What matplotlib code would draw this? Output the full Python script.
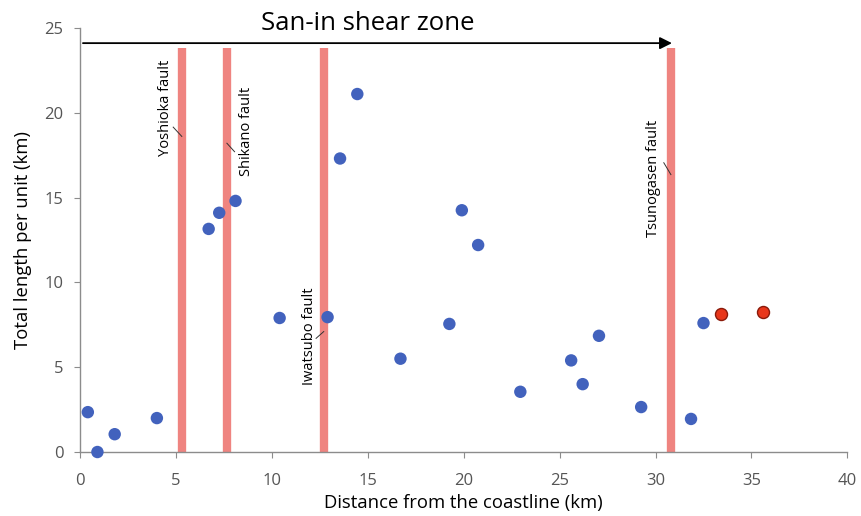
import matplotlib
matplotlib.use("Agg")
import matplotlib.pyplot as plt

plt.rcParams['font.family'] = ['Open Sans', 'DejaVu Sans']

# blue points: distance from coastline (km), total length per unit (km)
dist_blue = [0.4, 0.9, 1.8, 4.0, 6.7, 7.25, 8.1, 10.4, 12.9, 13.55, 14.45, 16.7,
             19.25, 19.9, 20.75, 22.95, 25.6, 26.2, 27.05, 29.25, 31.85, 32.5]
len_blue = [2.35, 0.0, 1.05, 2.0, 13.15, 14.1, 14.8, 7.9, 7.95, 17.3, 21.1, 5.5,
            7.55, 14.25, 12.2, 3.55, 5.4, 4.0, 6.85, 2.65, 1.95, 7.6]
# red points
dist_red = [33.4, 35.6]
len_red = [8.15, 8.25]

# faults
fault_names = ["Yoshioka fault", "Shikano fault", "Iwatsubo fault", "Tsunogasen fault"]
fault_x = [5.3, 7.65, 12.7, 30.8]
label_x = [4.45, 8.65, 11.95, 29.9]
label_y = [20.3, 18.9, 6.85, 16.15]
# leader lines: dx from fault, y at the fault, y at the label end
leader_dx = [-0.45, 0.4, -0.4, -0.37]
leader_y0 = [18.6, 18.2, 7.1, 16.35]
leader_y1 = [19.15, 17.7, 6.7, 17.05]

fig = plt.figure(figsize=(8.62, 5.16), dpi=100)
ax = fig.add_axes([0.093, 0.124, 0.890, 0.822])

for fx in fault_x:
    ax.plot([fx, fx], [0, 23.8], color='#ef8480', lw=6, solid_capstyle='butt', zorder=1)

for name, fx, lx, ly, dx, y0, y1 in zip(fault_names, fault_x, label_x, label_y,
                                        leader_dx, leader_y0, leader_y1):
    ax.text(lx, ly, name, rotation=90, ha='center', va='center', fontsize=10.5, color='black')
    ax.plot([fx, fx + dx], [y0, y1], color='#333333', lw=0.7, zorder=3)

ax.scatter(dist_blue, len_blue, s=80, color='#4262bd', edgecolors='none', zorder=4, clip_on=False)
ax.scatter(dist_red, len_red, s=75, color='#e8361a', edgecolors='#8a1a0a', linewidths=1.0, zorder=4)

ax.annotate('', xy=(31.0, 24.1), xytext=(0, 24.1),
            arrowprops=dict(arrowstyle='-|>', color='black', lw=1.3, mutation_scale=18))
ax.text(15.0, 25.25, 'San-in shear zone', ha='center', va='center', fontsize=18.5, clip_on=False)

ax.set_xlim(0, 40)
ax.set_ylim(0, 25)
ax.set_xticks([0, 5, 10, 15, 20, 25, 30, 35, 40])
ax.set_yticks([0, 5, 10, 15, 20, 25])
ax.spines['top'].set_visible(False)
ax.spines['right'].set_visible(False)
for s in ['left', 'bottom']:
    ax.spines[s].set_color('#8c8c8c')
    ax.spines[s].set_linewidth(1.0)
ax.tick_params(colors='#8c8c8c', labelcolor='#555555', labelsize=12, length=4)
ax.tick_params(axis='x', pad=11)
ax.tick_params(axis='y', pad=8)
ax.set_xlabel('Distance from the coastline (km)', fontsize=13.3, labelpad=4)
ax.set_ylabel('Total length per unit (km)', fontsize=13.3, labelpad=9)

fig.savefig('out.png', dpi=100)
